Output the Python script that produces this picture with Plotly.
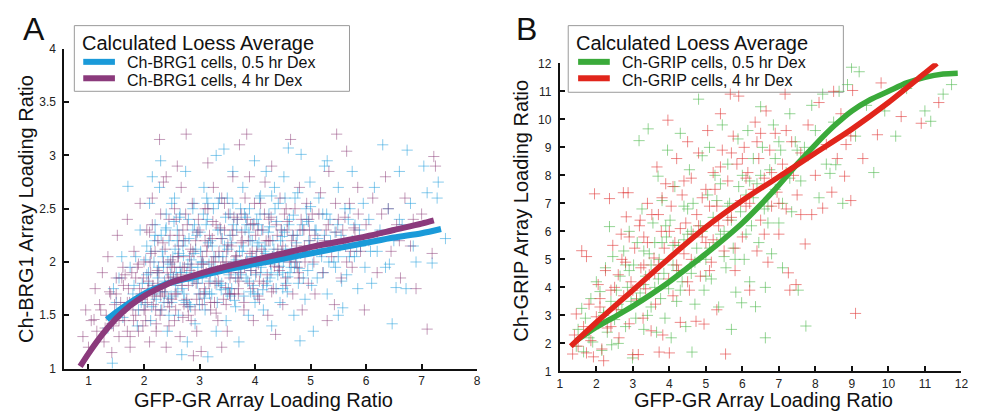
import plotly.graph_objects as go

# ---------------- Panel A data (Ch-BRG1) ----------------
brg_05_x = [1.35,1.43,1.5,1.55,1.62,1.71,1.75,1.8,1.85,1.9,1.93,1.97,1.6,1.45,1.88,
            2.02,2.05,2.08,2.1,2.12,2.15,2.18,2.2,2.22,2.25,2.28,2.3,2.33,2.35,2.38,2.4,2.42,2.45,2.48,2.5,
            2.52,2.55,2.57,2.6,2.62,2.65,2.68,2.7,2.72,2.75,2.77,2.8,2.82,2.85,2.87,2.9,2.92,2.95,2.97,2.99,
            2.3,2.6,2.45,2.78,2.15,
            3.02,3.05,3.08,3.1,3.12,3.15,3.17,3.2,3.22,3.25,3.28,3.3,3.32,3.35,3.38,3.4,3.44,3.45,3.48,3.5,
            3.52,3.55,3.58,3.6,3.62,3.65,3.68,3.71,3.72,3.75,3.78,3.8,3.82,3.85,3.88,3.9,3.92,3.95,3.97,3.99,
            3.3,3.55,3.65,3.15,3.85,
            4.02,4.05,4.08,4.1,4.12,4.15,4.18,4.2,4.22,4.25,4.28,4.3,4.32,4.35,4.38,4.4,4.42,4.45,4.48,4.5,
            4.52,4.55,4.58,4.6,4.62,4.65,4.68,4.7,4.72,4.75,4.78,4.81,4.83,4.85,4.88,4.9,4.92,4.95,4.97,4.99,
            5.05,5.08,5.12,5.15,5.2,5.25,5.3,5.35,5.4,5.45,5.5,5.55,5.58,5.62,5.65,5.7,5.75,5.8,5.85,5.9,
            5.95,5.98,5.3,5.5,5.75,
            6.05,6.1,6.15,6.2,6.3,6.35,6.4,6.47,6.5,6.54,6.6,6.65,6.72,6.74,6.8,6.9,7.04,7.1,7.19,7.28,7.3,7.43]
brg_05_y = [1.38,1.05,1.62,1.85,1.48,2.71,1.95,1.7,2.05,1.55,2.3,1.8,2.05,1.75,1.4,
            1.6,2.15,1.9,2.55,1.45,1.75,2.0,2.35,1.65,1.85,2.7,1.55,2.1,1.95,1.72,2.45,1.35,2.2,1.88,1.62,
            2.05,2.6,1.78,2.3,1.5,1.95,1.13,2.15,1.7,2.85,1.9,2.4,1.6,2.02,1.82,2.55,1.42,2.25,1.95,1.7,
            2.95,2.2,1.5,1.25,2.8,
            2.1,1.85,2.7,1.55,2.35,1.11,1.98,2.2,1.7,2.5,1.9,3.0,1.62,2.05,2.3,1.8,3.06,2.15,1.45,2.6,
            1.95,2.25,1.75,2.85,2.0,1.58,2.4,1.25,2.1,1.88,2.7,1.68,2.3,2.02,1.5,2.5,1.92,2.2,1.78,2.95,
            1.35,2.45,1.85,2.55,2.35,
            2.05,1.7,2.6,1.9,2.3,1.55,2.15,2.85,1.82,2.45,1.98,1.4,2.2,2.7,1.75,2.05,2.55,1.62,2.3,1.9,
            2.8,2.12,1.72,3.07,2.4,1.95,2.25,1.5,2.6,2.0,1.8,1.26,3.01,2.35,2.1,1.65,2.5,1.92,2.2,2.75,
            1.35,2.3,1.85,2.6,2.05,2.9,1.7,2.4,2.15,1.95,2.7,2.25,1.57,2.5,1.88,2.05,2.85,2.35,1.75,2.15,
            2.55,1.95,2.95,1.5,2.2,
            2.4,1.8,2.7,2.1,3.1,1.95,2.5,1.42,2.2,1.76,2.85,2.35,1.75,3.05,2.55,2.0,2.9,2.65,1.99,2.6,2.75,2.22]
brg_05_core_x = [1.82,1.95,2.05,2.12,2.18,2.26,2.31,2.37,2.43,2.49,2.54,2.58,2.63,2.69,2.74,2.79,2.84,2.88,2.93,2.98,
                 3.03,3.07,3.11,3.16,3.21,3.26,3.31,3.36,3.41,3.46,3.51,3.56,3.61,3.66,3.7,3.74,3.79,3.84,3.89,3.94,
                 3.98,4.03,4.07,4.11,4.16,4.21,4.26,4.31,4.36,4.41,4.46,4.51,4.56,4.61,4.66,4.71,4.76,4.82,4.87,4.93,
                 4.98,5.04,5.1,5.17,5.23,5.29,5.36,5.42,5.49,5.56,5.63,5.71,5.79,5.88,5.96,6.08,6.25,6.42,6.6,6.85,
                 2.2,2.4,2.65,2.9,3.13,3.37,3.6,3.83,4.06,4.3,4.53,4.77,5.0,5.25,5.5,3.0,3.5,4.0,4.5,2.5]
brg_05_core_y = [1.78,1.62,1.88,2.1,1.7,1.95,2.25,1.82,2.0,1.68,2.38,1.9,2.08,1.75,2.2,1.98,1.58,2.3,2.12,1.85,
                 2.0,2.45,1.72,2.18,1.92,2.05,1.8,2.6,2.22,1.95,2.12,1.68,2.35,2.02,1.9,2.5,2.15,1.85,2.28,2.05,
                 1.7,2.4,2.18,1.95,2.1,1.78,2.33,2.05,2.5,1.88,2.2,2.0,1.8,2.35,2.12,1.95,2.25,2.08,1.85,2.4,
                 2.15,1.98,2.3,2.1,1.9,2.45,2.2,2.0,2.35,1.82,2.15,2.5,2.05,2.3,2.2,2.1,2.3,1.98,2.4,2.15,
                 2.25,2.32,2.45,2.08,2.6,1.78,2.55,2.42,2.35,2.62,2.28,2.65,2.52,2.25,2.05,1.6,1.7,1.62,1.75,2.55]
brg_05_dense_x = [2.03,2.09,2.14,2.19,2.24,2.29,2.34,2.39,2.44,2.47,2.53,2.56,2.61,2.64,2.67,2.71,2.76,2.81,2.86,2.91,
                  2.96,3.01,3.06,3.09,3.14,3.19,3.23,3.28,3.33,3.39,3.42,3.47,3.53,3.57,3.63,3.67,3.73,3.77,3.81,3.87,
                  3.91,3.96,4.01,4.04,4.09,4.14,4.19,4.24,4.29,4.34,4.39,4.44,4.49,4.54,4.59,4.64,4.69,4.74,4.8,4.86,
                  4.91,4.96,5.02,5.13,5.22,5.33,5.44,5.53,5.68,5.83,2.36,2.72,3.18,3.52,3.92,4.27,4.63,2.88,3.34,4.1]
brg_05_dense_y = [2.02,1.8,1.58,2.2,1.9,1.72,2.05,2.3,1.66,1.98,1.85,2.12,1.72,2.42,1.9,2.06,1.62,2.22,1.95,2.35,
                  1.8,2.28,2.0,1.66,2.4,1.82,2.15,1.95,2.3,1.74,2.05,2.42,1.88,2.18,1.64,2.3,1.96,2.1,2.45,1.82,
                  2.2,2.35,1.88,2.15,2.45,1.74,2.08,2.28,1.9,2.12,2.38,1.96,2.24,2.6,1.86,2.02,2.44,2.18,1.94,2.3,
                  2.1,2.38,1.78,2.22,2.45,2.0,2.28,2.15,2.4,2.1,1.62,1.64,1.7,1.75,1.72,1.85,1.9,2.5,2.55,2.62]

brg_4_x = [0.9,0.95,1.0,1.05,1.1,1.12,1.15,1.2,1.25,1.28,1.32,1.35,1.4,1.42,1.45,1.5,1.52,1.55,1.58,1.62,
           1.65,1.7,1.72,1.75,1.8,1.82,1.85,1.9,1.93,1.97,
           2.0,2.03,2.05,2.07,2.1,2.12,2.15,2.17,2.2,2.22,2.25,2.28,2.3,2.32,2.35,2.37,2.4,2.42,2.45,2.47,
           2.5,2.52,2.55,2.57,2.6,2.62,2.65,2.67,2.7,2.72,2.76,2.78,2.8,2.82,2.85,2.87,2.89,2.9,2.93,2.95,
           2.98,2.25,2.4,2.55,2.7,2.15,2.85,2.6,2.35,2.95,
           3.03,3.05,3.08,3.1,3.12,3.15,3.18,3.2,3.22,3.25,3.28,3.3,3.33,3.35,3.38,3.4,3.43,3.45,3.48,3.5,
           3.52,3.55,3.58,3.6,3.63,3.65,3.68,3.72,3.74,3.77,3.8,3.82,3.85,3.87,3.9,3.92,3.95,3.97,3.99,3.4,
           3.6,3.25,3.7,3.1,3.9,
           4.02,4.05,4.08,4.1,4.13,4.15,4.18,4.2,4.23,4.25,4.28,4.3,4.33,4.37,4.4,4.42,4.45,4.48,4.5,4.53,
           4.55,4.58,4.64,4.65,4.68,4.72,4.75,4.78,4.8,4.85,4.88,4.9,4.93,4.96,4.99,
           5.03,5.08,5.12,5.18,5.22,5.28,5.33,5.38,5.43,5.47,5.5,5.55,5.6,5.65,5.7,5.75,5.8,5.85,5.9,5.97,
           5.3,5.65,
           6.05,6.12,6.2,6.28,6.35,6.45,6.55,6.62,6.7,6.8,6.9,7.0,7.1,7.19,7.22,7.25]
brg_4_y = [1.3,1.55,1.2,1.45,1.46,1.75,1.35,1.6,1.9,1.25,1.5,2.05,1.7,1.15,1.4,1.85,2.25,1.3,1.62,1.95,
           1.45,2.4,1.75,1.2,1.55,2.1,1.85,1.35,2.55,1.65,
           2.0,1.45,2.3,1.75,1.25,1.9,2.6,1.6,2.1,1.35,1.8,3.15,2.45,1.55,2.0,1.7,2.8,1.9,1.4,2.25,
           1.65,2.0,2.5,1.55,1.85,2.15,1.3,2.7,1.95,1.6,3.2,2.35,1.78,2.05,1.45,2.55,1.12,1.88,2.2,1.65,
           2.4,2.2,1.2,1.95,2.3,1.7,1.98,2.9,2.75,1.35,
           1.16,2.05,1.7,2.5,1.9,2.93,2.25,1.55,2.0,2.7,1.8,2.35,1.45,2.1,1.95,2.6,1.65,2.3,2.0,1.35,
           2.45,1.85,2.15,2.8,1.7,2.05,2.4,3.1,1.9,2.2,1.55,2.6,3.2,2.0,1.8,2.35,2.1,1.45,2.55,1.2,
           2.25,2.0,1.75,2.2,2.8,
           1.9,2.3,1.65,2.55,2.05,1.8,2.75,2.2,1.5,2.4,2.0,2.9,1.75,1.32,2.25,1.95,2.6,2.1,1.6,2.45,
           1.85,2.3,3.15,2.05,1.7,2.5,2.15,1.9,2.7,1.55,2.3,2.0,2.55,1.8,2.2,
           2.45,1.7,2.15,2.65,1.9,2.3,2.85,2.05,1.6,3.2,2.4,1.85,2.2,3.04,2.55,1.95,2.3,2.7,2.1,1.55,
           1.45,2.0,
           2.2,2.6,1.9,2.45,2.8,2.1,2.35,1.85,2.6,2.15,1.75,2.45,1.37,2.08,2.99,2.9]
brg_4_core_x = [1.22,1.3,1.38,1.47,1.55,1.63,1.7,1.78,1.85,1.92,1.99,2.06,2.11,2.16,2.21,2.27,2.33,2.38,2.44,2.5,
                2.56,2.61,2.66,2.71,2.77,2.83,2.88,2.94,2.99,3.04,3.09,3.14,3.19,3.24,3.29,3.34,3.39,3.44,3.49,3.54,
                3.59,3.64,3.69,3.75,3.81,3.86,3.91,3.96,4.01,4.06,4.12,4.17,4.22,4.27,4.32,4.38,4.44,4.5,4.56,4.62,
                4.69,4.76,4.83,4.91,4.98,5.06,5.15,5.25,5.35,5.45,5.58,5.72,5.86,6.0,6.2,6.4,6.6,6.85,1.6,1.9,
                2.0,2.3,2.55,2.8,3.05,3.3,3.55,3.8,4.05,4.3,4.55,4.8,2.15,2.45,2.75,3.15,3.45,3.75,1.75,2.62]
brg_4_core_y = [1.55,1.38,1.72,1.6,1.45,1.78,1.62,1.9,1.5,1.75,1.85,1.62,2.0,1.78,1.55,1.9,1.72,2.12,1.85,1.95,
                1.7,2.05,1.88,2.2,1.65,1.92,2.1,1.8,2.3,1.98,1.75,2.15,1.9,2.38,2.05,1.82,2.22,1.95,2.1,1.7,
                2.3,2.0,1.85,2.18,1.95,2.4,2.08,1.75,2.25,1.98,2.12,2.45,1.88,2.2,2.05,2.35,1.92,2.15,2.5,2.0,
                2.25,1.95,2.4,2.1,2.3,2.0,2.45,2.2,2.15,2.55,2.3,2.1,2.45,2.35,2.25,2.5,2.2,2.4,1.85,1.98,
                1.55,1.68,1.45,1.5,1.6,1.52,1.7,1.62,1.68,1.72,1.78,1.85,2.35,2.4,2.45,2.5,2.55,2.45,1.3,2.05]
brg_4_dense_x = [1.42,1.5,1.58,1.66,1.74,1.81,1.88,1.95,2.02,2.08,2.13,2.19,2.24,2.29,2.34,2.39,2.43,2.48,2.53,2.58,
                 2.63,2.68,2.73,2.79,2.84,2.9,2.96,3.01,3.07,3.13,3.17,3.23,3.27,3.32,3.37,3.42,3.47,3.51,3.57,3.62,
                 3.67,3.71,3.76,3.83,3.88,3.93,3.98,4.03,4.08,4.14,4.19,4.24,4.29,4.35,4.41,4.47,4.52,4.58,4.66,4.73,
                 4.81,4.89,4.97,5.08,5.2,5.32,5.46,5.62,5.78,1.7,1.98,2.22,2.46,2.7,2.92,3.2,3.48,3.7,2.1,2.58]
brg_4_dense_y = [1.42,1.7,1.52,1.88,1.62,1.45,1.95,1.7,1.55,1.82,2.08,1.68,1.92,1.5,2.18,1.78,1.62,2.02,1.86,1.7,
                 2.25,1.78,1.95,1.58,2.12,1.84,2.28,1.7,1.98,2.1,1.8,2.22,1.62,1.92,2.32,2.0,1.76,2.16,1.9,2.42,
                 2.06,1.82,2.28,2.0,2.2,1.92,2.36,2.1,1.82,2.3,2.02,2.2,2.42,1.96,2.12,2.3,2.05,2.38,2.2,2.0,
                 2.3,2.15,2.4,2.25,2.1,2.35,2.28,2.42,2.32,1.35,1.4,1.42,1.58,1.48,1.55,1.62,1.6,1.7,2.28,2.4]

loess_brg_05_x = [1.33,1.5,1.75,2.0,2.25,2.5,3.0,3.5,4.0,4.5,5.0,5.5,6.0,6.5,7.0,7.35]
loess_brg_05_y = [1.46,1.53,1.62,1.70,1.76,1.81,1.87,1.93,1.98,2.03,2.08,2.13,2.18,2.23,2.27,2.31]
loess_brg_4_x = [0.85,1.0,1.25,1.5,1.75,2.0,2.25,2.5,3.0,3.5,4.0,4.5,5.0,5.5,6.0,6.5,7.0,7.22]
loess_brg_4_y = [1.02,1.14,1.32,1.47,1.59,1.68,1.75,1.81,1.89,1.96,2.02,2.08,2.14,2.19,2.24,2.30,2.36,2.39]

# ---------------- Panel B data (Ch-GRIP) ----------------
grip_4_x = [1.35,1.4,1.45,1.5,1.6,1.65,1.73,1.73,1.8,1.85,1.92,1.95,2.0,2.05,2.1,2.15,2.2,2.25,2.3,2.36,2.4,2.45,
            2.55,2.6,2.62,2.68,2.74,2.75,2.8,2.82,2.87,2.9,2.95,3.0,3.05,3.1,3.15,3.18,3.22,3.28,3.3,3.35,
            3.4,3.45,3.5,3.52,3.58,3.62,3.66,3.7,3.72,3.78,3.82,3.86,3.9,3.96,3.98,
            4.0,4.05,4.1,4.15,4.2,4.25,4.3,4.35,4.4,4.45,4.5,4.55,4.6,4.65,4.73,4.75,4.8,4.85,4.9,4.95,
            5.0,5.05,5.1,5.15,5.2,5.25,5.3,5.35,5.4,5.45,5.5,5.54,5.6,5.67,5.7,5.75,5.8,5.85,5.9,5.95,
            6.0,6.05,6.1,6.15,6.2,6.3,6.35,6.4,6.45,6.5,6.6,6.65,6.7,6.75,6.8,6.9,6.95,7.0,7.1,7.17,
            7.2,7.26,7.3,7.35,7.47,7.5,7.6,7.72,7.8,7.9,
            8.0,8.1,8.2,8.3,8.45,8.5,8.6,8.7,8.8,8.84,8.97,8.97,9.02,9.1,9.3,9.7,9.8,10.35,10.9,11.38]
grip_4_y = [1.62,2.3,3.05,1.9,5.31,2.6,1.66,5.1,3.4,2.1,1.52,7.34,2.95,4.1,3.6,1.8,1.38,4.6,2.55,7.17,3.9,5.5,
            3.2,4.45,2.2,5.9,7.38,3.7,4.9,6.52,7.38,2.7,4.2,1.6,5.4,3.55,1.6,6.2,4.7,2.9,5.8,3.95,
            7.0,4.45,2.45,6.6,5.05,3.4,8.3,4.8,1.69,6.0,2.3,5.4,7.7,9.97,4.3,
            1.66,6.9,3.7,5.6,8.6,4.6,2.75,7.3,5.2,6.3,9.2,3.9,7.9,5.9,2.79,6.6,8.8,4.4,7.2,2.69,
            5.6,9.6,6.9,4.9,8.1,7.5,3.2,6.2,10.2,8.9,5.3,1.62,7.8,10.9,6.5,9.4,4.6,8.4,10.83,7.1,
            5.8,9.0,6.9,8.1,3.9,7.5,9.9,5.3,8.6,6.4,7.9,10.3,4.9,8.9,6.9,9.5,7.4,5.9,8.4,10.9,
            6.8,4.52,3.9,9.2,4.1,7.3,8.8,5.55,9.8,6.6,
            8.0,10.6,6.83,9.1,7.4,11.0,8.6,10.2,7.97,9.1,7.1,9.41,11.03,3.07,8.6,9.45,11.3,10.1,9.86,10.6]
grip_4_core_x = [2.1,2.5,2.7,3.0,3.2,3.4,3.6,3.8,4.0,4.2,4.4,4.6,4.8,5.0,5.2,5.4,5.6,5.8,6.0,6.2,
                 6.4,6.6,6.8,7.0,7.2,7.4,7.6,3.3,3.7,4.1,4.5,4.9,5.3,5.7,6.1,6.5,2.4,2.9,5.1,4.3]
grip_4_core_y = [3.3,4.0,5.0,3.9,6.4,5.6,4.5,7.2,6.0,4.8,7.8,5.0,6.2,7.5,5.7,8.3,6.4,5.4,8.6,7.0,
                 9.2,5.9,8.1,7.0,9.6,8.0,6.6,4.8,6.6,7.6,4.2,5.8,6.9,8.8,7.9,9.5,2.6,5.8,4.6,6.1]

grip_05_x = [1.45,1.5,1.6,1.65,1.7,1.8,1.85,1.9,2.0,2.05,2.1,2.15,2.2,2.25,2.3,2.36,2.4,2.42,2.45,2.5,
             2.55,2.6,2.65,2.7,2.75,2.8,2.85,2.9,2.95,2.99,3.02,3.08,3.12,3.17,3.2,3.25,3.3,3.35,3.42,3.45,
             3.5,3.55,3.6,3.65,3.69,3.72,3.76,3.8,3.85,3.88,3.92,3.95,3.98,3.6,3.3,
             4.02,4.05,4.1,4.15,4.2,4.25,4.3,4.35,4.4,4.45,4.5,4.55,4.6,4.62,4.65,4.7,4.75,4.8,4.85,4.9,
             4.95,5.0,5.05,5.1,5.15,5.2,5.25,5.3,5.35,5.4,5.45,5.5,5.55,5.6,5.65,5.7,5.75,5.82,5.88,5.95,
             5.98,6.0,6.05,6.1,6.15,6.2,6.25,6.3,6.36,6.4,6.45,6.5,6.55,6.63,6.63,6.7,6.75,6.8,6.85,6.9,
             7.0,7.05,7.1,7.2,7.3,7.35,7.45,7.53,7.6,7.74,7.8,7.9,
             8.0,8.1,8.2,8.3,8.4,8.5,8.56,8.65,8.75,8.88,8.99,9.1,9.2,9.4,9.6,9.9,10.2,10.5,11.0,11.16,
             11.5,11.73]
grip_05_y = [1.9,2.5,3.25,1.7,2.9,2.2,3.6,2.05,4.2,2.7,3.85,1.75,3.1,4.7,2.4,6.17,3.5,1.95,5.1,2.85,
             3.9,2.0,4.4,3.2,5.3,2.6,4.0,6.0,3.5,1.48,4.8,2.9,5.6,9.24,3.8,6.8,2.5,4.4,9.66,5.2,
             3.3,6.3,4.0,2.4,7.97,5.0,3.6,7.1,4.5,2.9,5.8,8.9,3.95,5.6,4.1,
             6.4,2.2,4.8,7.6,3.5,5.5,9.5,4.2,6.9,2.6,5.9,8.2,4.5,1.69,7.0,3.4,5.4,10.72,6.2,8.7,
             3.9,5.0,7.3,9.0,4.3,6.5,8.0,5.6,3.3,7.7,9.8,6.0,4.7,8.4,7.0,2.5,5.4,3.83,9.3,6.7,
             3.45,8.0,5.0,7.3,9.6,4.2,6.2,8.6,3.31,7.7,5.6,10.45,9.0,4.0,2.2,6.9,8.2,5.2,9.8,7.5,
             6.3,8.9,4.7,8.1,10.2,6.7,9.2,3.9,7.8,2.62,8.7,10.5,
             9.6,7.2,10.9,8.4,8.07,9.9,8.38,11.0,7.0,11.24,11.86,9.4,11.7,10.5,8.1,10.3,9.4,11.1,10.3,9.93,
             10.9,11.24]
grip_05_core_x = [2.2,2.6,2.9,3.1,3.3,3.5,3.7,3.9,4.1,4.3,4.5,4.7,4.9,5.1,5.3,5.5,5.7,5.9,6.1,6.3,
                  6.5,6.7,6.9,7.1,7.3,7.5,7.7,3.4,3.8,4.2,4.6,5.0,5.4,5.8,6.2,6.6,7.0,2.8,4.4,5.6]
grip_05_core_y = [3.0,3.4,4.6,3.6,5.3,4.8,4.3,6.2,5.5,3.9,6.8,4.9,6.0,5.4,7.1,5.1,6.4,7.6,5.9,7.2,
                  8.0,6.3,8.6,7.0,7.9,8.9,9.0,3.0,5.6,4.6,6.0,4.4,5.9,5.0,7.8,6.8,9.2,4.8,5.7,6.9]

loess_grip_05_x = [1.45,2,2.5,3,3.5,4,4.5,5,5.5,6,6.5,7,7.5,8,8.5,9,9.5,10,10.5,11,11.5,11.9]
loess_grip_05_y = [2.1,2.58,2.95,3.33,3.75,4.2,4.7,5.2,5.73,6.3,6.95,7.65,8.4,9.1,9.75,10.3,10.7,11.0,11.3,11.5,11.62,11.65]
loess_grip_4_x = [1.3,2,3,4,5,6,7,8,9,10,11,11.33]
loess_grip_4_y = [1.9,2.75,3.9,5.05,6.15,7.1,7.95,8.8,9.65,10.6,11.65,12.0]

labels_A = ["Ch-BRG1 cells, 0.5 hr Dex", "Ch-BRG1 cells, 4 hr Dex"]
labels_B = ["Ch-GRIP cells, 0.5 hr Dex", "Ch-GRIP cells, 4 hr Dex"]
legend_title = "Calculated Loess Average"
xtitle = "GFP-GR Array Loading Ratio"
ytitle_A = "Ch-BRG1 Array Loading Ratio"
ytitle_B = "Ch-GRIP Array Loading Ratio"

# ---------------- styling ----------------
OFF = 8                      # default margin of the html body around the figure
W, H = 982 - OFF, 419 - OFF
FONT = "Liberation Sans, Arial, sans-serif"
BLUE, PURPLE, GREEN, RED = "#1a9ad9", "#8b3a7c", "#3aaa3a", "#e1251b"
BLUE_M, PURPLE_M = "rgba(40,160,220,0.55)", "rgba(140,60,120,0.5)"
GREEN_M, RED_M = "rgba(80,185,80,0.6)", "rgba(225,60,60,0.6)"

def fx(p): return (p - OFF) / W
def fy(p): return 1 - (p - OFF) / H

fig = go.Figure()

def pts(x, y, color, xa, ya):
    fig.add_trace(go.Scatter(x=x, y=y, mode="markers", xaxis=xa, yaxis=ya, showlegend=False,
                             marker=dict(symbol="cross-thin", size=8, line=dict(width=1, color=color))))

def line(x, y, color, xa, ya, w=6):
    fig.add_trace(go.Scatter(x=x, y=y, mode="lines", xaxis=xa, yaxis=ya, showlegend=False,
                             line=dict(color=color, width=w, shape="spline", smoothing=0.8)))

pts(brg_05_x + brg_05_core_x + brg_05_dense_x, brg_05_y + brg_05_core_y + brg_05_dense_y, BLUE_M, "x", "y")
pts(brg_4_x + brg_4_core_x + brg_4_dense_x, brg_4_y + brg_4_core_y + brg_4_dense_y, PURPLE_M, "x", "y")
line(loess_brg_05_x, loess_brg_05_y, BLUE, "x", "y")
line(loess_brg_4_x, loess_brg_4_y, PURPLE, "x", "y")

pts(grip_05_x + grip_05_core_x, grip_05_y + grip_05_core_y, GREEN_M, "x2", "y2")
pts(grip_4_x + grip_4_core_x, grip_4_y + grip_4_core_y, RED_M, "x2", "y2")
line(loess_grip_05_x, loess_grip_05_y, GREEN, "x2", "y2", 5.5)
line(loess_grip_4_x, loess_grip_4_y, RED, "x2", "y2", 5.5)

axcommon = dict(showgrid=False, zeroline=False, showline=True, linecolor="#111", linewidth=2,
                ticks="inside", ticklen=5, tickwidth=1.5, tickcolor="#111",
                tickfont=dict(family=FONT, size=12, color="#222"), mirror=False)

fig.update_layout(
    width=W, height=H, margin=dict(l=0, r=0, t=0, b=0),
    paper_bgcolor="white", plot_bgcolor="white",
    xaxis=dict(domain=[fx(62), fx(479)], range=[0.567, 8.001], anchor="y",
               tickvals=[1, 2, 3, 4, 5, 6, 7, 8], ticklabelstandoff=0, **axcommon),
    yaxis=dict(domain=[fy(374), fy(43)], range=[1, 4.001], anchor="x",
               tickvals=[1, 1.5, 2, 2.5, 3, 3.5, 4], ticklabelstandoff=4, **axcommon),
    xaxis2=dict(domain=[fx(562.5), fx(968.3)], range=[0.999, 12.001], anchor="y2",
                tickvals=list(range(1, 13)), ticklabelstandoff=0, **axcommon),
    yaxis2=dict(domain=[fy(377), fy(58)], range=[0.999, 12.001], anchor="x2",
                tickvals=list(range(1, 13)), ticklabelstandoff=4, **axcommon),
)

ann = []
shapes = []
def text(t, px, py, size, xanchor="left", angle=0, color="#111"):
    ann.append(dict(text=t, x=fx(px), y=fy(py), xref="paper", yref="paper", showarrow=False,
                    xanchor=xanchor, yanchor="middle", textangle=angle, borderpad=0,
                    font=dict(family=FONT, size=size, color=color)))

# panel letters
text("A", 31, 23, 32, "center")
text("B", 529, 23, 32, "center")
# axis titles
text(xtitle, 263, 407, 20, "center")
text(xtitle, 768, 407, 20, "center")
text(ytitle_A, 23, 209, 20, "center", -90)
text(ytitle_B, 523, 211, 20, "center", -90)

# legend boxes
def legend(x0, x1, y0, y1, title, labels, colors, tx, sx0, sx1, lx):
    shapes.append(dict(type="rect", xref="paper", yref="paper", x0=fx(x0), x1=fx(x1), y0=fy(y1), y1=fy(y0),
                       line=dict(color="#9a9a9a", width=1), fillcolor="white", layer="below"))
    text(title, tx, 37, 20)
    for lab, col, yy, ly in zip(labels, colors, [57.3, 75.3], [56.5, 73.5]):
        shapes.append(dict(type="line", xref="paper", yref="paper", x0=fx(sx0), x1=fx(sx1), y0=fy(ly), y1=fy(ly),
                           line=dict(color=col, width=6)))
        text(lab, lx, yy, 16)

legend(72, 350, 19, 87, legend_title, labels_A, [BLUE, PURPLE], 79, 81, 113, 124)
legend(571, 849, 19, 88, legend_title, labels_B, [GREEN, RED], 578, 581, 613, 624)

fig.update_layout(annotations=ann, shapes=shapes)
fig.write_html("out.html", config={"displayModeBar": False})
